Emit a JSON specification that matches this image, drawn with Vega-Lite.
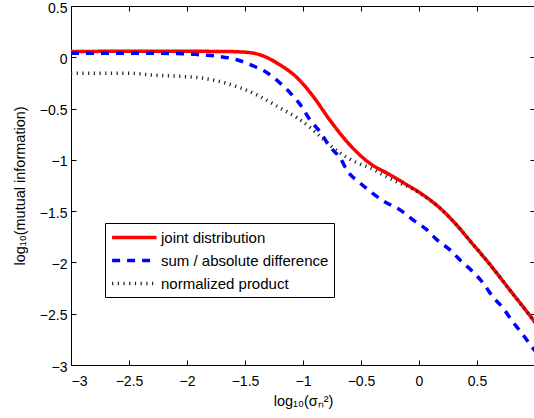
{
  "$schema": "https://vega.github.io/schema/vega-lite/v6.json",
  "width": 464,
  "height": 359,
  "autosize": {"type": "none"},
  "padding": {"left": 71, "top": 6, "right": 0, "bottom": 53},
  "background": "white",
  "config": {
    "font": "Liberation Sans",
    "view": {"stroke": null},
    "axis": {
      "grid": false,
      "domainColor": "black",
      "domainWidth": 1,
      "tickColor": "black",
      "tickWidth": 1,
      "tickSize": -5,
      "labelFont": "Liberation Sans",
      "labelFontSize": 14,
      "labelColor": "black",
      "titleFont": "Liberation Sans",
      "titleFontSize": 14.5,
      "titleFontWeight": "normal",
      "titleColor": "black"
    },
    "legend": {
      "labelFont": "Liberation Sans",
      "labelFontSize": 15,
      "labelColor": "black",
      "labelLimit": 400
    }
  },
  "data": {
    "values": [
      {"s": "joint distribution", "x": -3, "y": 0.057},
      {"s": "joint distribution", "x": -2.5, "y": 0.058},
      {"s": "joint distribution", "x": -2, "y": 0.058},
      {"s": "joint distribution", "x": -1.7, "y": 0.057},
      {"s": "joint distribution", "x": -1.5, "y": 0.05},
      {"s": "joint distribution", "x": -1.37, "y": 0.024},
      {"s": "joint distribution", "x": -1.2, "y": -0.073},
      {"s": "joint distribution", "x": -1.05, "y": -0.2},
      {"s": "joint distribution", "x": -0.91, "y": -0.385},
      {"s": "joint distribution", "x": -0.77, "y": -0.61},
      {"s": "joint distribution", "x": -0.62, "y": -0.824},
      {"s": "joint distribution", "x": -0.44, "y": -1.02},
      {"s": "joint distribution", "x": -0.25, "y": -1.146},
      {"s": "joint distribution", "x": -0.103, "y": -1.244},
      {"s": "joint distribution", "x": 0.034, "y": -1.341},
      {"s": "joint distribution", "x": 0.181, "y": -1.47},
      {"s": "joint distribution", "x": 0.328, "y": -1.64},
      {"s": "joint distribution", "x": 0.466, "y": -1.825},
      {"s": "joint distribution", "x": 0.586, "y": -1.985},
      {"s": "joint distribution", "x": 0.784, "y": -2.27},
      {"s": "joint distribution", "x": 0.957, "y": -2.52},
      {"s": "joint distribution", "x": 1.0, "y": -2.585},
      {"s": "sum / absolute difference", "x": -3, "y": 0.04},
      {"s": "sum / absolute difference", "x": -2.5, "y": 0.04},
      {"s": "sum / absolute difference", "x": -2.0, "y": 0.035},
      {"s": "sum / absolute difference", "x": -1.89, "y": 0.024},
      {"s": "sum / absolute difference", "x": -1.72, "y": 0.008},
      {"s": "sum / absolute difference", "x": -1.57, "y": -0.024},
      {"s": "sum / absolute difference", "x": -1.43, "y": -0.083},
      {"s": "sum / absolute difference", "x": -1.31, "y": -0.151},
      {"s": "sum / absolute difference", "x": -1.2, "y": -0.249},
      {"s": "sum / absolute difference", "x": -1.095, "y": -0.366},
      {"s": "sum / absolute difference", "x": -1.01, "y": -0.483},
      {"s": "sum / absolute difference", "x": -0.94, "y": -0.61},
      {"s": "sum / absolute difference", "x": -0.853, "y": -0.727},
      {"s": "sum / absolute difference", "x": -0.767, "y": -0.873},
      {"s": "sum / absolute difference", "x": -0.681, "y": -0.98},
      {"s": "sum / absolute difference", "x": -0.612, "y": -1.117},
      {"s": "sum / absolute difference", "x": -0.509, "y": -1.224},
      {"s": "sum / absolute difference", "x": -0.405, "y": -1.322},
      {"s": "sum / absolute difference", "x": -0.293, "y": -1.41},
      {"s": "sum / absolute difference", "x": -0.164, "y": -1.488},
      {"s": "sum / absolute difference", "x": -0.052, "y": -1.585},
      {"s": "sum / absolute difference", "x": 0.069, "y": -1.683},
      {"s": "sum / absolute difference", "x": 0.155, "y": -1.78},
      {"s": "sum / absolute difference", "x": 0.267, "y": -1.878},
      {"s": "sum / absolute difference", "x": 0.371, "y": -1.995},
      {"s": "sum / absolute difference", "x": 0.466, "y": -2.093},
      {"s": "sum / absolute difference", "x": 0.552, "y": -2.2},
      {"s": "sum / absolute difference", "x": 0.638, "y": -2.337},
      {"s": "sum / absolute difference", "x": 0.724, "y": -2.444},
      {"s": "sum / absolute difference", "x": 0.81, "y": -2.581},
      {"s": "sum / absolute difference", "x": 0.897, "y": -2.707},
      {"s": "sum / absolute difference", "x": 0.974, "y": -2.824},
      {"s": "sum / absolute difference", "x": 1.0, "y": -2.863},
      {"s": "normalized product", "x": -3, "y": -0.155},
      {"s": "normalized product", "x": -2.5, "y": -0.155},
      {"s": "normalized product", "x": -2.32, "y": -0.171},
      {"s": "normalized product", "x": -2.03, "y": -0.188},
      {"s": "normalized product", "x": -1.89, "y": -0.2},
      {"s": "normalized product", "x": -1.72, "y": -0.236},
      {"s": "normalized product", "x": -1.54, "y": -0.298},
      {"s": "normalized product", "x": -1.37, "y": -0.383},
      {"s": "normalized product", "x": -1.2, "y": -0.493},
      {"s": "normalized product", "x": -1.05, "y": -0.59},
      {"s": "normalized product", "x": -0.914, "y": -0.707},
      {"s": "normalized product", "x": -0.793, "y": -0.834},
      {"s": "normalized product", "x": -0.681, "y": -0.932},
      {"s": "normalized product", "x": -0.534, "y": -1.029},
      {"s": "normalized product", "x": -0.422, "y": -1.078},
      {"s": "normalized product", "x": -0.31, "y": -1.146},
      {"s": "normalized product", "x": -0.19, "y": -1.215},
      {"s": "normalized product", "x": -0.078, "y": -1.27},
      {"s": "normalized product", "x": 0.034, "y": -1.345},
      {"s": "normalized product", "x": 0.181, "y": -1.47},
      {"s": "normalized product", "x": 0.328, "y": -1.64},
      {"s": "normalized product", "x": 0.466, "y": -1.825},
      {"s": "normalized product", "x": 0.586, "y": -1.985},
      {"s": "normalized product", "x": 0.784, "y": -2.27},
      {"s": "normalized product", "x": 0.957, "y": -2.52},
      {"s": "normalized product", "x": 1.0, "y": -2.585}
    ]
  },
  "layer": [
    {
      "mark": {"type": "line", "interpolate": "monotone", "strokeCap": "butt", "clip": true},
      "encoding": {
        "x": {
          "field": "x", "type": "quantitative",
          "scale": {"domain": [-3, 1], "nice": false, "zero": false},
          "axis": {
            "orient": "bottom",
            "values": [-3, -2.5, -2, -1.5, -1, -0.5, 0, 0.5],
            "format": "~g",
            "labelPadding": 14,
            "title": "log₁₀(σₙ²)",
            "titlePadding": 6
          }
        },
        "y": {
          "field": "y", "type": "quantitative",
          "scale": {"domain": [-3, 0.5], "nice": false, "zero": false},
          "axis": {
            "orient": "left",
            "values": [-3, -2.5, -2, -1.5, -1, -0.5, 0, 0.5],
            "format": "~g",
            "labelPadding": 9,
            "labelOffset": 2,
            "title": "log₁₀(mutual information)",
            "titlePadding": 12
          }
        },
        "color": {
          "field": "s", "type": "nominal",
          "scale": {
            "domain": ["joint distribution", "sum / absolute difference", "normalized product"],
            "range": ["#ff0000", "#0000ff", "#222222"]
          },
          "legend": {
            "title": null,
            "orient": "none",
            "legendX": 34,
            "legendY": 217,
            "symbolType": "M-1,0L5,0",
            "symbolSize": 220,
            "labelOffset": 32,
            "rowPadding": 5,
            "padding": 5,
            "strokeColor": "black",
            "fillColor": "white",
            "cornerRadius": 0
          }
        },
        "strokeDash": {
          "field": "s", "type": "nominal",
          "scale": {
            "domain": ["joint distribution", "sum / absolute difference", "normalized product"],
            "range": [[1, 0], [8, 7], [1.2, 4.5]]
          },
          "legend": null
        },
        "strokeWidth": {
          "field": "s", "type": "nominal",
          "scale": {
            "domain": ["joint distribution", "sum / absolute difference", "normalized product"],
            "range": [3.5, 3.5, 1]
          },
          "legend": null
        }
      }
    },
    {
      "mark": {"type": "line", "opacity": 0},
      "encoding": {
        "x": {
          "field": "x", "type": "quantitative",
          "scale": {"domain": [-3, 1], "nice": false, "zero": false},
          "axis": {"orient": "top", "values": [-3, -2.5, -2, -1.5, -1, -0.5, 0, 0.5], "labels": false, "title": null}
        },
        "y": {
          "field": "y", "type": "quantitative",
          "scale": {"domain": [-3, 0.5], "nice": false, "zero": false},
          "axis": {"orient": "right", "values": [-3, -2.5, -2, -1.5, -1, -0.5, 0, 0.5], "labels": false, "title": null}
        }
      }
    }
  ],
  "resolve": {"axis": {"x": "independent", "y": "independent"}}
}
